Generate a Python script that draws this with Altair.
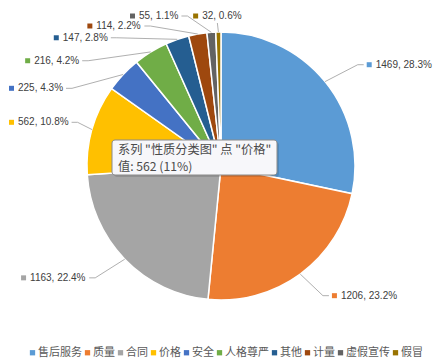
import math
import altair as alt
import pandas as pd

# ---------------- data ----------------
categories = ["售后服务", "质量", "合同", "价格", "安全", "人格尊严", "其他", "计量", "虚假宣传", "假冒"]
values = [1469, 1206, 1163, 562, 225, 216, 147, 114, 55, 32]
colors = ["#5B9BD5", "#ED7D31", "#A5A5A5", "#FFC000", "#4472C4",
          "#70AD47", "#255E91", "#9E480E", "#636363", "#997300"]
tooltip_lines = ['系列 "性质分类图" 点 "价格"', "值: 562 (11%)"]

# ---------------- layout helpers (derived from data) ----------------
W, H = 426, 316
R = 134.0
RX, RY, YMAX, GAP, VGAP = 1.4 * R, 1.2 * R, 150.0, 12.0, 9.0
FS = 10
LABEL_FONT = "Liberation Sans"


def text_w(s):
    w = 0.0
    for ch in s:
        if ch.isdigit():
            w += 0.556
        elif ch in ",. ":
            w += 0.278
        elif ch == "%":
            w += 0.889
        else:
            w += 0.6
    return w * FS


n = len(values)
total = sum(values)
labels = [f"{v}, {v / total * 100:.1f}%" for v in values]
mids, cum = [], 0
for v in values:
    mids.append((cum + v / 2) / total * 360)
    cum += v

# spread the labels on the left side so that small slices do not collide
label_ang = list(mids)
left_order = sorted([i for i in range(n) if mids[i] >= 180], key=lambda k: -mids[k])
prev = None
for i in left_order:
    a = mids[i] if prev is None else min(mids[i], prev - GAP)
    label_ang[i] = a
    prev = a

boxes = {}
for i in range(n):
    a = math.radians(label_ang[i])
    s, c = math.sin(a), math.cos(a)
    ax = RX * s
    ay = max(min(RY * c, YMAX), -YMAX)
    bw = 9 + text_w(labels[i])
    if abs(s) < 0.1:
        kind, left = "c", ax - bw / 2
    elif s < 0:
        kind, left = "l", ax - bw
    else:
        kind, left = "r", ax
    left = max(left, -W / 2 + 1)
    boxes[i] = [kind, left, bw, ay]

# vertical de-overlap on the left side (top to bottom)
prev = None
for i in left_order:
    kind, left, bw, ay = boxes[i]
    if prev is not None:
        pk, pl, pw, py = boxes[prev]
        if left < pl + pw and pl < left + bw:
            ay = min(ay, py - VGAP - 1)
            boxes[i][3] = ay
    prev = i

rows_lab, rows_line = [], []
for i in range(n):
    kind, left, bw, ay = boxes[i]
    m = math.radians(mids[i])
    px, py = R * math.sin(m), R * math.cos(m)
    if kind == "c":
        pts = [(px, py), (left + bw / 2, ay - 7)]
    elif kind == "l":
        pts = [(px, py), (left + bw + 9, ay), (left + bw + 3, ay)]
    else:
        pts = [(px, py), (left - 9, ay), (left - 3, ay)]
    rows_lab.append({"cat": categories[i], "label": labels[i],
                     "mx": left + 2.5, "tx": left + 9, "y": ay})
    for k, (x, y) in enumerate(pts):
        rows_line.append({"cat": categories[i], "ord": k, "x": x, "y": y})

pie_df = pd.DataFrame({"cat": categories, "value": values, "idx": list(range(n))})
lab_df = pd.DataFrame(rows_lab)
line_df = pd.DataFrame(rows_line)
tip_df = pd.DataFrame({"line": tooltip_lines, "row": [0, 1]})

xs = alt.Scale(domain=[-W / 2, W / 2], nice=False)
ys = alt.Scale(domain=[-H / 2, H / 2], nice=False)
color_scale = alt.Scale(domain=categories, range=colors)

pie = alt.Chart(pie_df).mark_arc(outerRadius=R, stroke="white", strokeWidth=1.5).encode(
    theta=alt.Theta("value:Q", stack=True),
    order=alt.Order("idx:Q"),
    color=alt.Color("cat:N", scale=color_scale, sort=categories,
                    legend=alt.Legend(orient="none", legendX=19, legendY=339,
                                      direction="horizontal", title=None,
                                      symbolType="square", symbolSize=28,
                                      symbolStrokeWidth=0,
                                      labelFontSize=11, labelColor="#595959",
                                      labelFont="Noto Sans CJK SC",
                                      columnPadding=0, labelOffset=0)),
)

leaders = alt.Chart(line_df).mark_line(color="#a6a6a6", strokeWidth=0.9).encode(
    x=alt.X("x:Q", scale=xs, axis=None),
    y=alt.Y("y:Q", scale=ys, axis=None),
    detail="cat:N",
    order=alt.Order("ord:Q"),
)

markers = alt.Chart(lab_df).mark_square(size=25, opacity=1).encode(
    x=alt.X("mx:Q", scale=xs, axis=None),
    y=alt.Y("y:Q", scale=ys, axis=None),
    color=alt.Color("cat:N", scale=color_scale, legend=None),
)

texts = alt.Chart(lab_df).mark_text(align="left", baseline="middle", fontSize=FS,
                                    font=LABEL_FONT, color="#404040").encode(
    x=alt.X("tx:Q", scale=xs, axis=None),
    y=alt.Y("y:Q", scale=ys, axis=None),
    text="label:N",
)

tip_base = alt.Chart(pd.DataFrame({"a": [0]}))
tip_shadow = tip_base.mark_rect(cornerRadius=3, fill="#000000", opacity=0.12).encode(
    x=alt.value(106), x2=alt.value(271), y=alt.value(134), y2=alt.value(169))
tip_box = tip_base.mark_rect(cornerRadius=3, fill="#f7f7fa", stroke="#8a8a8a",
                             strokeWidth=1).encode(
    x=alt.value(104), x2=alt.value(269), y=alt.value(132), y2=alt.value(167))
tip_text = alt.Chart(tip_df).mark_text(align="left", baseline="middle", fontSize=12.2,
                                        font="Noto Sans CJK SC", color="#4a4a4a").encode(
    x=alt.value(110),
    y=alt.Y("row:Q", scale=alt.Scale(domain=[0, 1], range=[141.5, 158.5]), axis=None),
    text="line:N",
)

chart = alt.layer(pie, leaders, markers, texts, tip_shadow, tip_box, tip_text).properties(
    width=W, height=H,
    autosize=alt.AutoSizeParams(type="none"),
    padding={"left": 0, "top": 0, "right": 3, "bottom": 38},
).configure_view(stroke=None).resolve_scale(y="independent")

chart.save("out.html", embed_options={"renderer": "svg", "actions": False})
